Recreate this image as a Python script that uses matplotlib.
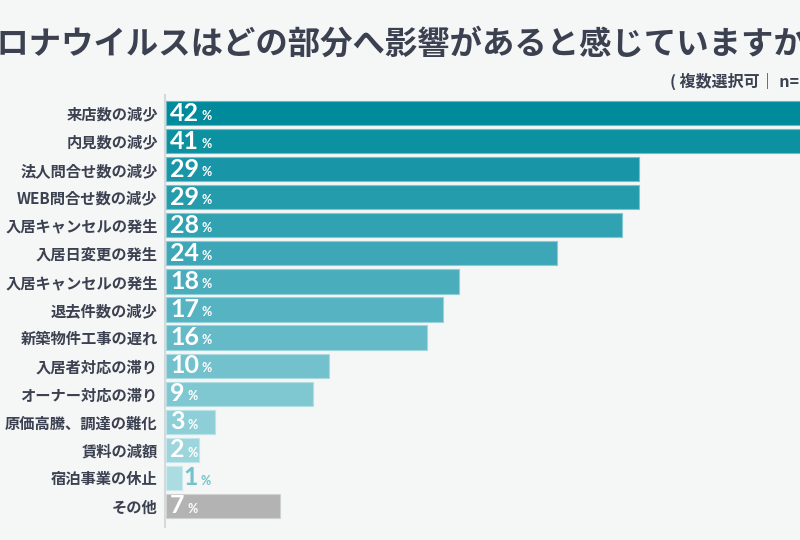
import matplotlib.pyplot as plt
import matplotlib.colors as mcolors
import numpy as np
from matplotlib.lines import Line2D

plt.rcParams['font.family'] = ['Noto Sans CJK JP', 'DejaVu Sans']

categories = ["来店数の減少", "内見数の減少", "法人問合せ数の減少", "WEB問合せ数の減少",
              "入居キャンセルの発生", "入居日変更の発生", "入居キャンセルの発生",
              "退去件数の減少", "新築物件工事の遅れ", "入居者対応の滞り",
              "オーナー対応の滞り", "原価高騰、調達の難化", "賃料の減額",
              "宿泊事業の休止", "その他"]
values = [42, 41, 29, 29, 28, 24, 18, 17, 16, 10, 9, 3, 2, 1, 7]

title = "コロナウイルスはどの部分へ影響があると感じていますか？"
subtitle = "( 複数選択可｜ n="

bg = "#f5f6f6"
text_col = "#3b4150"

# teal gradient for the ranked items, gray for "その他"
cmap = mcolors.LinearSegmentedColormap.from_list("teal", ["#008b9c", "#4fb0bf", "#aadce1"])
n = len(values) - 1
colors = [cmap(i / (n - 1)) for i in range(n)] + ["#b3b3b3"]

fig = plt.figure(figsize=(8, 5.4), dpi=100, facecolor=bg)
ax = fig.add_axes([166 / 800, 1 - 520 / 540, (800 - 166) / 800, 421 / 540])
ax.set_facecolor(bg)

y = np.arange(len(values))
edge = [mcolors.to_hex(np.array(mcolors.to_rgb(c)) * 0.6 + 0.4) for c in colors]
ax.barh(y, values, height=0.86, color=colors, edgecolor=edge, linewidth=0.8)

ax.set_xlim(0, (800 - 166) / 16.3)
ax.set_ylim(len(values) - 0.5, -0.5)
ax.set_yticks(y)
ax.set_yticklabels(categories, fontsize=11, color=text_col, fontweight='bold')
ax.tick_params(axis='y', length=0, pad=6)
ax.set_xticks([])
for s in ax.spines.values():
    s.set_visible(False)

fig.add_artist(Line2D([165 / 800, 165 / 800], [1 - 95 / 540, 1 - 527 / 540],
                      color="#d6d9db", lw=1.5))

renderer = fig.canvas.get_renderer()
for yi, v, c in zip(y, values, colors):
    if v < 2:
        x0, off, col = v, 1, "#74c2cc"
    else:
        x0, off, col = 0, 3, "white"
    t = ax.annotate(str(v), (x0, yi), xytext=(off, 0), textcoords='offset points',
                    va='center', ha='left', fontsize=18, fontweight='bold', color=col,
                    family=['Lato', 'DejaVu Sans'], annotation_clip=False)
    bb = t.get_window_extent(renderer)
    xd = ax.transData.inverted().transform((bb.x1, 0))[0]
    ax.annotate("%", (xd, yi), xytext=(2, -2), textcoords='offset points',
                va='center', ha='left', fontsize=9, fontweight='bold', color=col,
                family=['Lato', 'DejaVu Sans'], annotation_clip=False)

fig.text(-36 / 800, 1 - 44 / 540, title, fontsize=23.3, fontweight='bold',
         color=text_col, va='center', ha='left')
fig.text(670 / 800, 1 - 81 / 540, subtitle, fontsize=11.5, fontweight='bold',
         color=text_col, va='center', ha='left')

fig.savefig("out.png", dpi=100, facecolor=bg)
